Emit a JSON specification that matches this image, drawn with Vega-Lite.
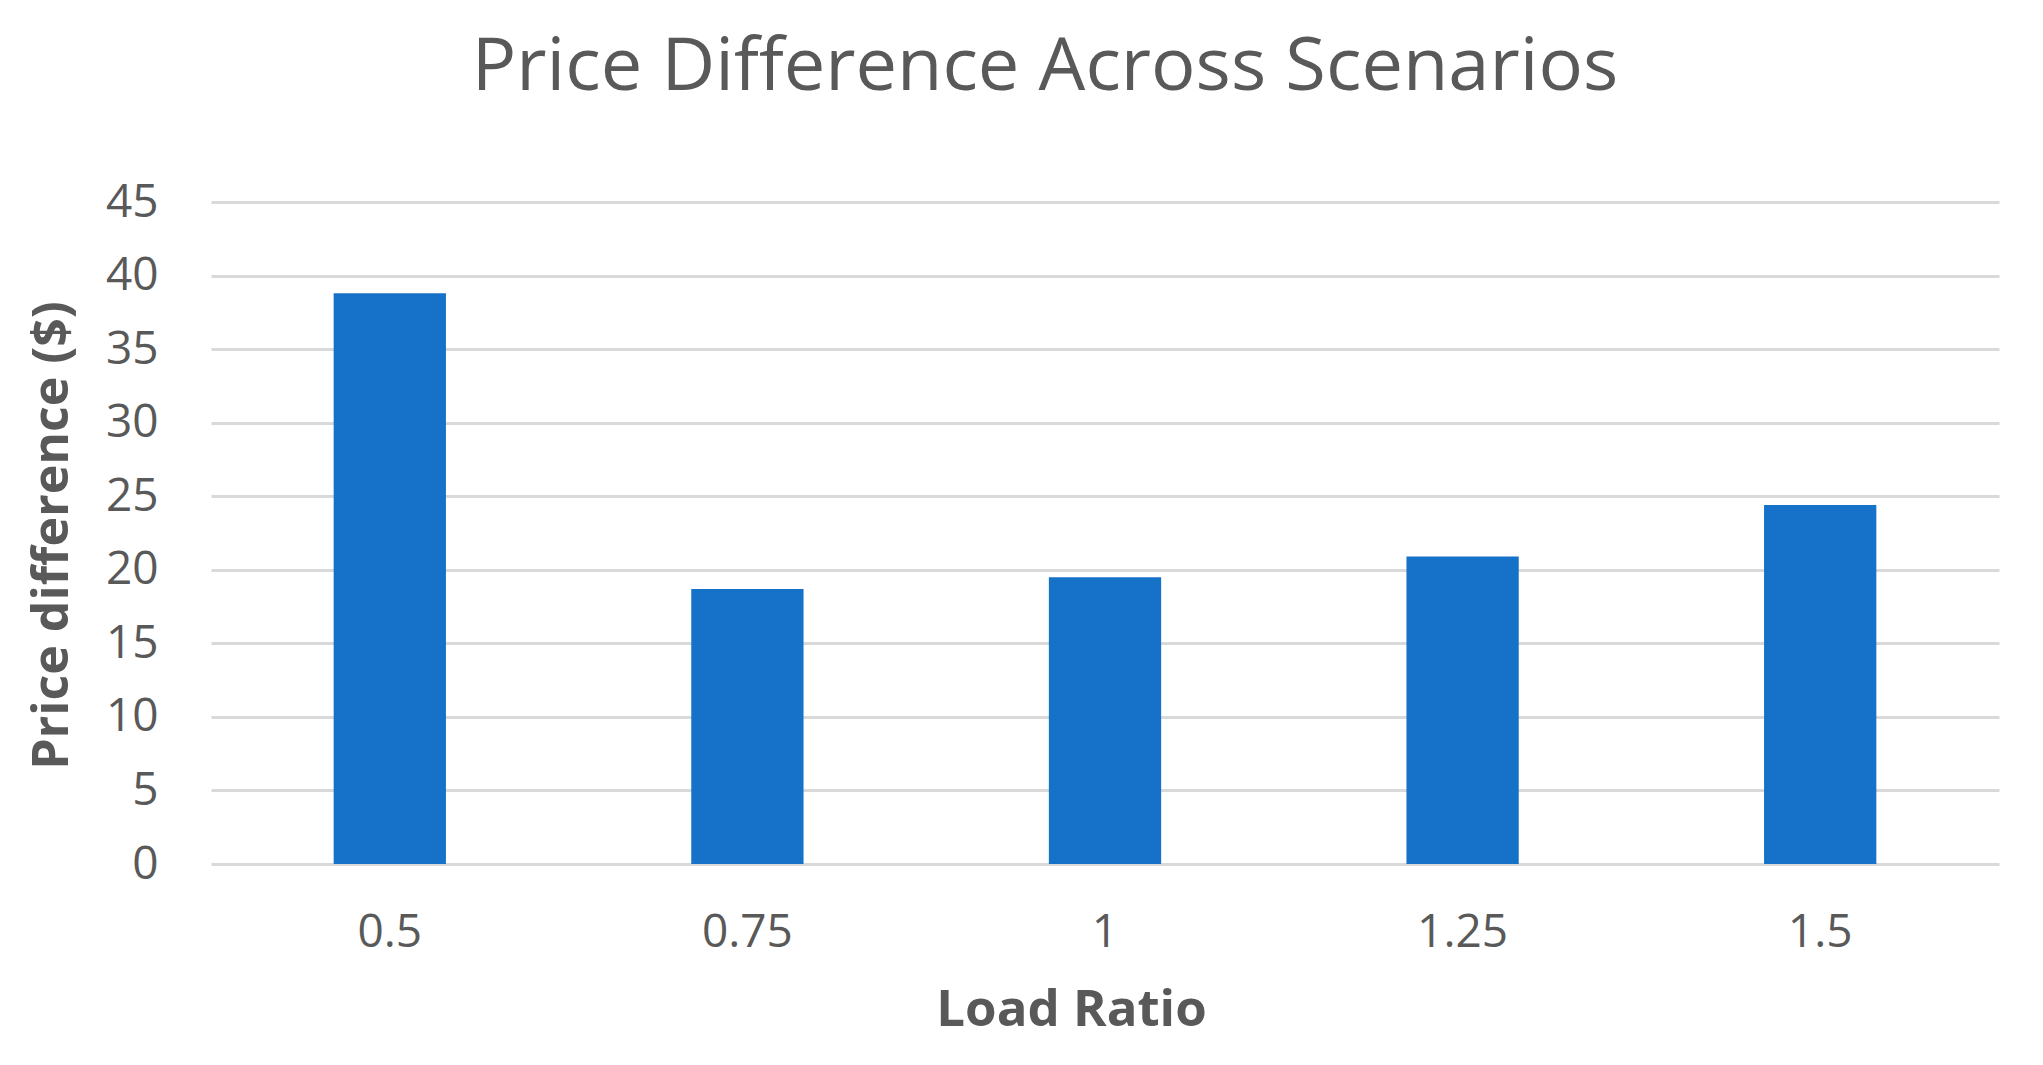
{
  "$schema": "https://vega.github.io/schema/vega-lite/v6.json",
  "width": 1788,
  "height": 662,
  "autosize": {"type": "none"},
  "padding": {"left": 211, "top": 202, "right": 44, "bottom": 201},
  "background": "#ffffff",
  "title": {
    "text": "Price Difference Across Scenarios",
    "anchor": "middle",
    "dx": -60,
    "offset": 15,
    "baseline": "alphabetic",
    "font": "Open Sans",
    "fontSize": 74,
    "fontWeight": "normal",
    "color": "#595959"
  },
  "data": {
    "values": [
      {"load_ratio": "0.5", "price_difference": 38.8},
      {"load_ratio": "0.75", "price_difference": 18.7},
      {"load_ratio": "1", "price_difference": 19.5},
      {"load_ratio": "1.25", "price_difference": 20.9},
      {"load_ratio": "1.5", "price_difference": 24.4}
    ]
  },
  "mark": {"type": "bar", "color": "#1672C9"},
  "encoding": {
    "x": {
      "field": "load_ratio",
      "type": "ordinal",
      "sort": null,
      "scale": {"paddingInner": 0.686, "paddingOuter": 0.343},
      "axis": {
        "title": "Load Ratio",
        "labelAngle": 0,
        "ticks": false,
        "tickSize": 0,
        "domain": false,
        "labelPadding": 68,
        "labelBaseline": "middle",
        "labelFont": "Open Sans",
        "labelFontSize": 46,
        "labelColor": "#595959",
        "titleFont": "Open Sans",
        "titleFontSize": 51,
        "titleFontWeight": "bold",
        "titleColor": "#595959",
        "titleX": 860,
        "titleY": 146,
        "titleBaseline": "middle"
      }
    },
    "y": {
      "field": "price_difference",
      "type": "quantitative",
      "scale": {"domain": [0, 45], "nice": false},
      "axis": {
        "title": "Price difference ($)",
        "values": [0, 5, 10, 15, 20, 25, 30, 35, 40, 45],
        "ticks": false,
        "tickSize": 0,
        "domain": false,
        "grid": true,
        "gridColor": "#d9d9d9",
        "gridWidth": 3,
        "labelPadding": 53,
        "labelFont": "Open Sans",
        "labelFontSize": 46,
        "labelColor": "#595959",
        "titleFont": "Open Sans",
        "titleFontSize": 50,
        "titleFontWeight": "bold",
        "titleColor": "#595959",
        "titleAngle": 270,
        "titleX": -159,
        "titleY": 333,
        "titleBaseline": "middle",
        "titleAlign": "center"
      }
    }
  },
  "config": {"view": {"stroke": null}}
}
